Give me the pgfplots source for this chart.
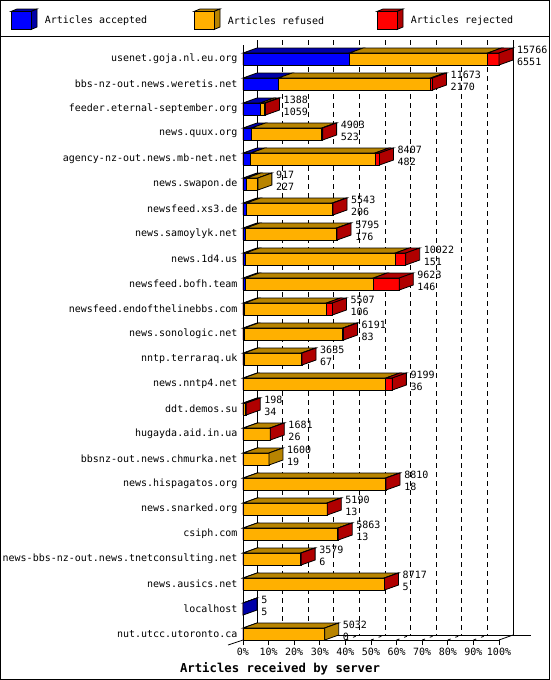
\documentclass[border=0pt]{standalone}
\usepackage{pgfplots}
\pgfplotsset{compat=1.18}
\usepackage{pgfplotstable}
\usepackage{fontspec}
\setmainfont{DejaVu Sans Mono}

\definecolor{cAcc}{HTML}{0000FF}
\definecolor{cAccDk}{HTML}{0000A8}
\definecolor{cRef}{HTML}{FFB000}
\definecolor{cRefDk}{HTML}{B88400}
\definecolor{cRej}{HTML}{FF0000}
\definecolor{cRejDk}{HTML}{B00000}

% top face of a bar segment; \seglen is the segment's length in articles
% (256pt stand for 15766 articles)
\pgfdeclareplotmark{topface}{%
  \pgfmathsetlengthmacro\seglenpt{\seglen*0.0162375}%
  \pgfpathmoveto{\pgfqpoint{0pt}{6pt}}%
  \pgfpathlineto{\pgfpoint{\seglenpt}{6pt}}%
  \pgfpathlineto{\pgfpoint{\seglenpt+14pt}{11pt}}%
  \pgfpathlineto{\pgfqpoint{14pt}{11pt}}%
  \pgfpathclose
  \pgfusepathqfillstroke}
% right side face of a bar
\pgfdeclareplotmark{sideface}{%
  \pgfpathmoveto{\pgfqpoint{0pt}{-6pt}}%
  \pgfpathlineto{\pgfqpoint{14pt}{-1pt}}%
  \pgfpathlineto{\pgfqpoint{14pt}{11pt}}%
  \pgfpathlineto{\pgfqpoint{0pt}{6pt}}%
  \pgfpathclose
  \pgfusepathqfillstroke}

\pgfplotsset{
  mybar/.style={xbar, bar width=12pt, bar shift=0pt, draw=black, line width=0.8pt},
  top/.style={scatter, only marks, mark=topface,
    mark options={line width=0.8pt},
    scatter/use mapped color={draw=black, fill=#1}},
  side/.style={only marks, mark=sideface, unbounded coords=discard,
    mark options={line width=0.8pt, draw=black, fill=#1}},
}

% articles per server: accepted, refused, rejected
\pgfplotstableread{
row acc ref rej
0 6551 8515 700
1 2170 9383 120
2 1059 264 65
3 523 4330 50
4 482 7645 280
5 227 690 0
6 206 5297 40
7 176 5589 30
8 151 9231 640
9 146 7877 1600
10 106 5031 370
11 83 6068 40
12 67 3538 30
13 36 8763 400
14 34 120 44
15 26 1635 20
16 19 1581 0
17 18 8762 30
18 13 5157 20
19 13 5830 20
20 6 3553 20
21 5 8692 20
22 5 0 0
23 0 5032 0
}\traffic

\newcommand\legbox[3]{%
  \filldraw[fill=#3] (#1,11.5) -- ++(6,-2.5) -- ++(20,0) -- ++(-6,2.5) -- cycle;
  \filldraw[fill=#3] (#1+20,11.5) -- ++(6,-2.5) -- ++(0,18) -- ++(-6,2.5) -- cycle;
  \filldraw[fill=#2] (#1,11.5) rectangle ++(20,18);
}

\begin{document}
\begin{tikzpicture}
\begin{scope}[x=1pt,y=-1pt,line width=0.8pt]
  \draw (0.5,0.5) rectangle (549.5,679.5);
  \draw (0,36.5) -- (550,36.5);
  % legend
  \legbox{11}{cAcc}{cAccDk}
  \legbox{194}{cRef}{cRefDk}
  \legbox{377}{cRej}{cRejDk}
  \node[anchor=west,inner sep=0pt,font=\fontsize{10}{12}\selectfont] at (44.5,21) {Articles accepted};
  \node[anchor=west,inner sep=0pt,font=\fontsize{10}{12}\selectfont] at (227.5,21) {Articles refused};
  \node[anchor=west,inner sep=0pt,font=\fontsize{10}{12}\selectfont] at (410.5,21) {Articles rejected};
  % back wall and floor
  \foreach \k in {1,...,9} {
    \draw[dash pattern=on 5pt off 4pt] (257+25.6*\k,40) -- (257+25.6*\k,635);
    \draw[dash pattern=on 3pt off 5pt on 3pt off 9pt] (243+25.6*\k,640) -- (257+25.6*\k,635);
  }
  \draw (257,40) -- (257,635) -- (531,635);
  \draw (513,40) -- (513,635);
  \draw (499,640) -- (513,635);
  \draw (228,645) -- (243,640);
\end{scope}

\begin{axis}[
  at={(243pt,-640pt)}, anchor=south west,
  scale only axis, width=256pt, height=595pt,
  xmin=0, xmax=15766, ymin=-0.56, ymax=23.24,
  y dir=reverse,
  clip=false,
  axis x line*=bottom, axis y line*=left,
  axis line style={-, line width=0.8pt},
  tick align=outside, major tick length=5pt,
  scaled x ticks=false,
  xtick={0,1576.6,3153.2,4729.8,6306.4,7883,9459.6,11036.2,12612.8,14189.4,15766},
  xticklabels={0\%,10\%,20\%,30\%,40\%,50\%,60\%,70\%,80\%,90\%,100\%},
  xtick style={black, line width=0.8pt},
  ytick={0,...,23},
  ytick style={draw=none},
  yticklabels={usenet.goja.nl.eu.org,bbs-nz-out.news.weretis.net,feeder.eternal-september.org,news.quux.org,agency-nz-out.news.mb-net.net,news.swapon.de,newsfeed.xs3.de,news.samoylyk.net,news.1d4.us,newsfeed.bofh.team,newsfeed.endofthelinebbs.com,news.sonologic.net,nntp.terraraq.uk,news.nntp4.net,ddt.demos.su,hugayda.aid.in.ua,bbsnz-out.news.chmurka.net,news.hispagatos.org,news.snarked.org,csiph.com,news-bbs-nz-out.news.tnetconsulting.net,news.ausics.net,localhost,nut.utcc.utoronto.ca},
  tick label style={font=\fontsize{10}{12}\selectfont},
  yticklabel style={xshift=3pt},
  /pgf/number format/assume math mode=true,
  xlabel={Articles received by server},
  xlabel style={font=\bfseries\fontsize{12.3}{14}\selectfont, xshift=-91pt},
]
% front faces: total, accepted+refused, accepted
\addplot[mybar, fill=cRej]
  table[x expr=\thisrow{acc}+\thisrow{ref}+\thisrow{rej}, y=row] {\traffic};
\addplot[mybar, fill=cRef]
  table[x expr=\thisrow{acc}+\thisrow{ref}, y=row] {\traffic};
\addplot[mybar, fill=cAcc]
  table[x=acc, y=row] {\traffic};
% top faces of the three segments
\addplot[top=cAccDk, visualization depends on={\thisrow{acc}\as\seglen}]
  table[x expr=0, y=row] {\traffic};
\addplot[top=cRefDk, visualization depends on={\thisrow{ref}\as\seglen}]
  table[x=acc, y=row] {\traffic};
\addplot[top=cRejDk, visualization depends on={\thisrow{rej}\as\seglen}]
  table[x expr=\thisrow{acc}+\thisrow{ref}, y=row] {\traffic};
% side faces, coloured by the last segment
\addplot[side=cRejDk]
  table[x expr={\thisrow{rej}>0 ? \thisrow{acc}+\thisrow{ref}+\thisrow{rej} : nan}, y=row] {\traffic};
\addplot[side=cRefDk]
  table[x expr={(\thisrow{rej}==0 && \thisrow{ref}>0) ? \thisrow{acc}+\thisrow{ref} : nan}, y=row] {\traffic};
\addplot[side=cAccDk]
  table[x expr={(\thisrow{rej}==0 && \thisrow{ref}==0) ? \thisrow{acc} : nan}, y=row] {\traffic};
% offered / accepted numbers
\addplot[draw=none, mark=none, point meta=x,
  visualization depends on={\thisrow{acc}\as\acc},
  nodes near coords={\pgfmathprintnumber[fixed,precision=0,1000 sep={}]{\pgfplotspointmeta}\\\pgfmathprintnumber[fixed,precision=0,1000 sep={}]{\acc}},
  nodes near coords align=horizontal,
  every node near coord/.append style={align=left, inner sep=0pt,
    font=\fontsize{10}{11.7}\selectfont, xshift=18pt, yshift=3pt}]
  table[x expr=\thisrow{acc}+\thisrow{ref}+\thisrow{rej}, y=row] {\traffic};
\end{axis}
\pgfresetboundingbox
\useasboundingbox (0pt,0pt) rectangle (550pt,-680pt);
\end{tikzpicture}
\end{document}
